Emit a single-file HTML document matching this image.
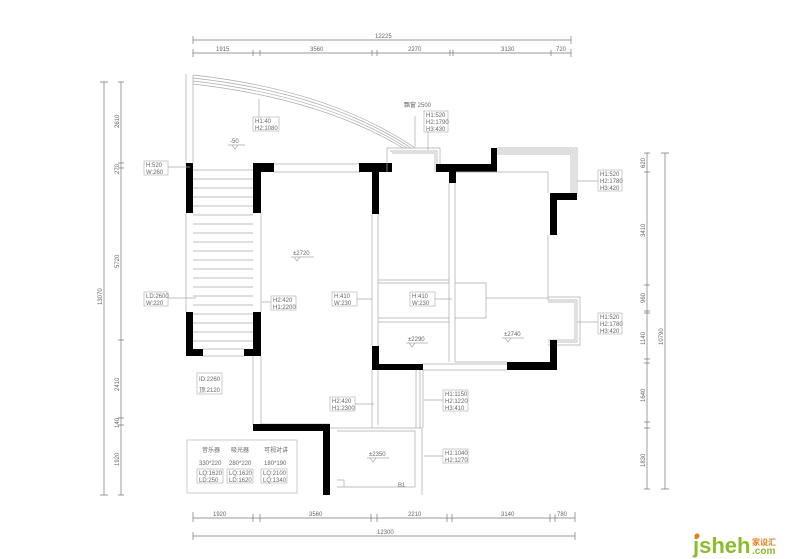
<!DOCTYPE html>
<html><head><meta charset="utf-8"><style>
body{margin:0;background:#fff;width:790px;height:559px;overflow:hidden}
svg{display:block}
text{font-family:"Liberation Sans","Noto Sans CJK SC",sans-serif;fill:#666;font-size:6px}
.l{stroke:#aaa;stroke-width:.7;fill:none}
.d{stroke:#777;stroke-width:.7;fill:none}
.b{fill:#000}
.bx{stroke:#aaa;stroke-width:.6;fill:#fff}
</style></head><body>
<svg width="790" height="559" viewBox="0 0 790 559">
<path class="d" d="M193 40H571M193 36V44M571 36V44M193 53H571M193 49V57M253 50V56M260 50V56M372 50V56M377 50V56M450 50V56M453 50V56M551 50V56M571 49V57"/>
<text x="375" y="38">12225</text>
<text x="216" y="51">1915</text><text x="310" y="51">3560</text><text x="408" y="51">2270</text>
<text x="501" y="51">3130</text><text x="556" y="51">720</text>
<path class="d" d="M193 518H575M193 512V522M253 514V522M260 514V522M371 514V522M377 514V522M447 514V522M452 514V522M550 514V522M555 514V522M575 512V522M193 536H575M193 532V540M575 532V540"/>
<text x="213" y="516">1920</text><text x="309" y="516">3560</text><text x="408" y="516">2210</text>
<text x="501" y="516">3140</text><text x="557" y="516">780</text><text x="377" y="534">12300</text>
<path class="d" d="M104 82V495M100 82H108M100 495H108M121 82V495M118 82H124M118 163H124M118 168H124M118 340H124M118 418H124M118 425H124M118 495H124"/>
<g transform="rotate(-90)">
<text x="-305" y="102">13070</text>
<text x="-128" y="119">2610</text><text x="-174" y="119">270</text><text x="-268" y="119">5720</text>
<text x="-391" y="119">2410</text><text x="-428" y="119">140</text><text x="-466" y="119">1920</text>
<text x="-345" y="663">10790</text>
<text x="-168" y="645">620</text><text x="-237" y="645">3410</text><text x="-303" y="645">960</text>
<text x="-345" y="645">1140</text><text x="-402" y="645">1640</text><text x="-467" y="645">1830</text>
</g>
<path class="d" d="M647 153V489M644 153H650M644 172H650M644 285H650M644 311H650M644 313H650M644 359H650M644 363H650M644 422H650M644 428H650M644 489H650M665 153V489M661 153H669M661 489H669"/>
<path class="l" d="M186 74V165M193 75Q330 90 415 148M193 78Q328 93 411 148M193 81Q325 96 407 148M193 84Q322 99 403 148M193 75V163"/>
<path class="l" d="M193 170H253M193 179H253M193 188H253M193 197H253M193 206H253M193 215H253M193 224H253M193 233H253M193 242H253M193 251H253M193 260H253M193 269H253M193 278H253M193 287H253M193 296H253M193 305H253M193 314H253M193 323H253M193 332H253M193 341H253M186 213V312M261 213V312M203 349H244M203 356H244"/>
<rect class="b" x="186" y="163" width="7" height="50"/>
<rect class="b" x="253" y="163" width="21" height="9"/><rect class="b" x="253" y="163" width="8" height="50"/>
<rect class="b" x="186" y="312" width="7" height="44"/><rect class="b" x="186" y="349" width="17" height="7"/>
<rect class="b" x="253" y="312" width="8" height="44"/><rect class="b" x="244" y="349" width="17" height="7"/>
<path class="l" d="M274 164H360M274 172H360M253 356V425M261 356V424M261 424H330"/>
<rect class="b" x="359" y="163" width="33" height="9"/><rect class="b" x="372" y="172" width="7" height="42"/>
<path class="l" d="M387 148H440V172M387 148V172M390 151H437V172M392 153H435V172"/>
<rect class="b" x="436" y="164" width="61" height="8"/><rect class="b" x="449" y="172" width="7" height="11"/>
<rect class="b" x="491" y="148" width="6" height="24"/>
<path class="l" d="M497 148H577V194M497 150H575V194M497 152H573V194M497 154H571V194M456 172H548V193M548 235V300M372 214V346M378 214V346M449 183V362M455 183V362M378 280H449M378 283H449M378 318H449M378 322H449M455 283H486V318H455M486 298H548M455 362H507"/>
<path class="l" d="M548 297H580V345H548M548 300H577V342H548M548 302H575V340H548"/>
<rect class="b" x="550" y="193" width="27" height="7"/><rect class="b" x="550" y="193" width="7" height="42"/>
<rect class="b" x="507" y="362" width="50" height="8"/><rect class="b" x="550" y="340" width="7" height="30"/>
<rect class="b" x="372" y="346" width="7" height="24"/><rect class="b" x="372" y="364" width="51" height="6"/>
<path class="l" d="M423 364H507M423 370H507M372 370V428M378 370V425M416 370V428M420 370V428M423 370V428M330 428H422V495M337 431H415V487H337M337 480H344V487"/>
<rect class="b" x="253" y="424" width="77" height="7"/><rect class="b" x="323" y="424" width="7" height="71"/>
<g class="bx"><rect x="253" y="117" width="26" height="14"/><rect x="424" y="111" width="24" height="21"/>
<rect x="598" y="170" width="24" height="21"/><rect x="598" y="313" width="24" height="21"/>
<rect x="144" y="161" width="24" height="14"/><rect x="144" y="292" width="24" height="14"/>
<rect x="271" y="296" width="25" height="14"/><rect x="332" y="292" width="25" height="14"/>
<rect x="410" y="292" width="25" height="14"/><rect x="197" y="373" width="25" height="21"/>
<rect x="330" y="397" width="25" height="14"/><rect x="443" y="390" width="25" height="21"/>
<rect x="443" y="449" width="25" height="14"/><rect x="187" y="440" width="110" height="53"/></g>
<path class="l" d="M259 99V117M415 116V147M428 131V150M577 181H598M577 322H598M168 167H190M168 298H196M262 302H271M357 299H372M435 299H452M355 404H374M424 400H443M424 456H443"/>
<text x="255" y="123">H1:40</text><text x="255" y="130">H2:1080</text>
<text x="404" y="107">飘窗 2500</text>
<text x="426" y="117">H1:520</text><text x="426" y="124">H2:1790</text><text x="426" y="131">H3:430</text>
<text x="600" y="176">H1:520</text><text x="600" y="183">H2:1780</text><text x="600" y="190">H3:420</text>
<text x="600" y="319">H1:520</text><text x="600" y="326">H2:1780</text><text x="600" y="333">H3:420</text>
<text x="146" y="167">H:520</text><text x="146" y="174">W:260</text>
<text x="146" y="298">LD:2600</text><text x="146" y="305">W:220</text>
<text x="273" y="302">H2:420</text><text x="273" y="309">H1:2200</text>
<text x="334" y="298">H:410</text><text x="334" y="305">W:230</text>
<text x="412" y="298">H:410</text><text x="412" y="305">W:230</text>
<text x="199" y="381">ID:2260</text><text x="199" y="392">顶:2120</text>
<text x="332" y="403">H2:420</text><text x="332" y="410">H1:2300</text>
<text x="445" y="396">H1:1150</text><text x="445" y="403">H2:1220</text><text x="445" y="410">H3:410</text>
<text x="445" y="455">H1:1040</text><text x="445" y="462">H2:1270</text>
<text x="230" y="143">-50</text><text x="293" y="255">±2720</text><text x="408" y="341">±2290</text>
<text x="504" y="336">±2740</text><text x="369" y="456">±2350</text>
<path class="l" d="M228 145H245M232 145L235 149L238 145M291 257H314M294 257L297 261L300 257M406 343H428M409 343L412 347L415 343M502 338H524M505 338L508 342L511 338M367 458H389M370 458L373 462L376 458"/>
<text x="202" y="452">音乐器</text><text x="231" y="452">吸光器</text><text x="264" y="452">可视对讲</text>
<text x="199" y="465">330*220</text><text x="229" y="465">280*220</text><text x="264" y="465">180*190</text>
<g class="bx"><rect x="197" y="469" width="26" height="14"/><rect x="227" y="469" width="26" height="14"/><rect x="261" y="469" width="26" height="14"/></g>
<text x="199" y="475">LQ:1620</text><text x="199" y="482">LD:250</text>
<text x="229" y="475">LQ:1620</text><text x="229" y="482">LD:1620</text>
<text x="263" y="475">LQ:2100</text><text x="263" y="482">LQ:1340</text>
<text x="398" y="487">B1</text>
<text x="693" y="553" style="font-size:22px;font-weight:bold;fill:#8dbb2c">jsheh</text>
<text x="752" y="545" style="font-size:8px;font-weight:bold;fill:#e77a1a">家设汇</text>
<text x="752" y="554" style="font-size:10px;font-weight:bold;fill:#8dbb2c">.com</text>
<circle cx="697" cy="536" r="2.5" fill="#e77a1a"/>
</svg>
</body></html>
